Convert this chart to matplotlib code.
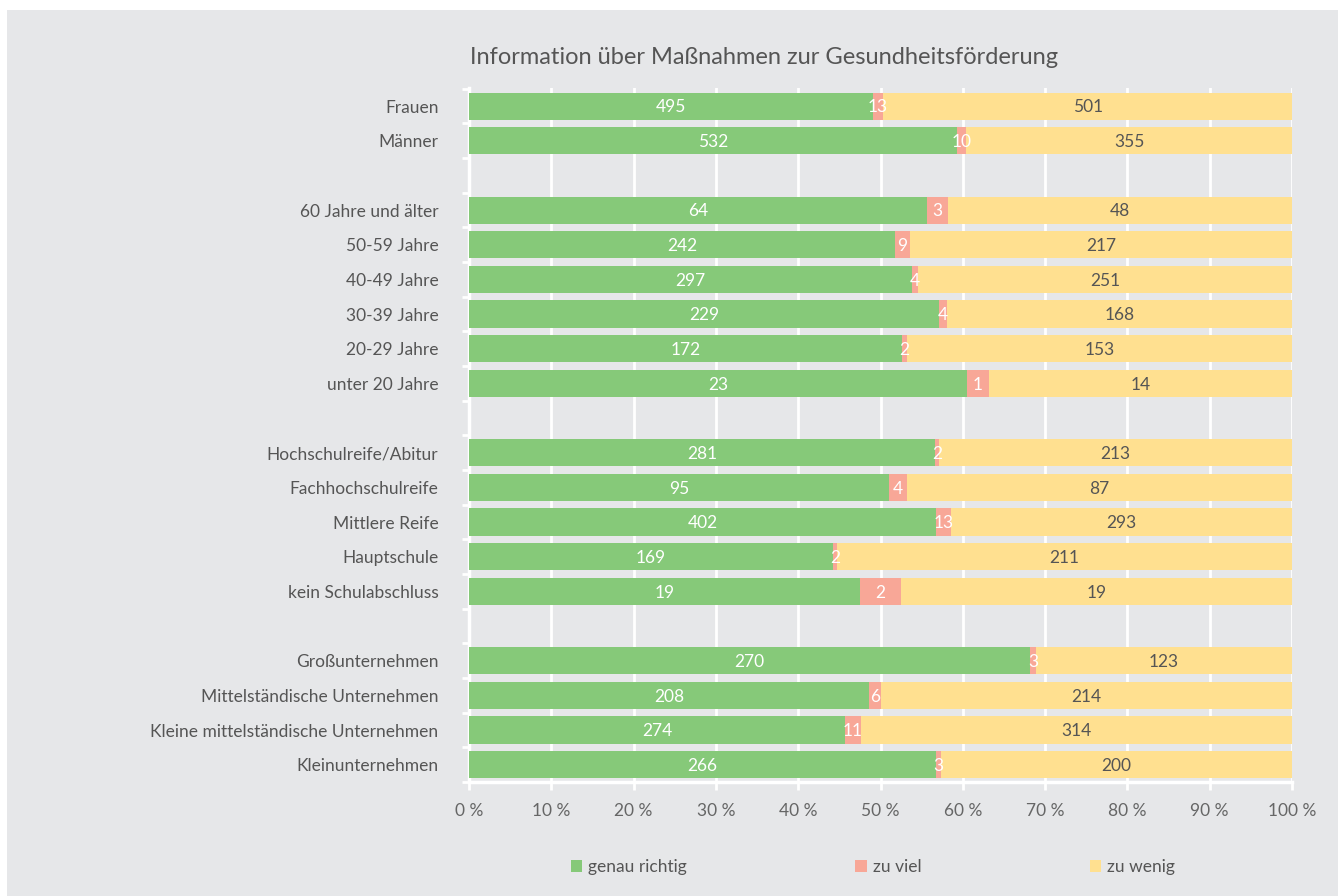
import matplotlib
matplotlib.use("Agg")
import matplotlib.pyplot as plt
from matplotlib.patches import Rectangle, Patch
import numpy as np

plt.rcParams['font.family'] = ['Lato', 'DejaVu Sans']

title = "Information über Maßnahmen zur Gesundheitsförderung"
categories = [
    "Frauen", "Männer", None,
    "60 Jahre und älter", "50-59 Jahre", "40-49 Jahre", "30-39 Jahre", "20-29 Jahre", "unter 20 Jahre", None,
    "Hochschulreife/Abitur", "Fachhochschulreife", "Mittlere Reife", "Hauptschule", "kein Schulabschluss", None,
    "Großunternehmen", "Mittelständische Unternehmen", "Kleine mittelständische Unternehmen", "Kleinunternehmen",
]
genau_richtig = [495, 532, None, 64, 242, 297, 229, 172, 23, None, 281, 95, 402, 169, 19, None, 270, 208, 274, 266]
zu_viel =       [13, 10, None, 3, 9, 4, 4, 2, 1, None, 2, 4, 13, 2, 2, None, 3, 6, 11, 3]
zu_wenig =      [501, 355, None, 48, 217, 251, 168, 153, 14, None, 213, 87, 293, 211, 19, None, 123, 214, 314, 200]
series_names = ["genau richtig", "zu viel", "zu wenig"]
x_ticks = [0, 10, 20, 30, 40, 50, 60, 70, 80, 90, 100]

colors = ["#86C979", "#F8A797", "#FFE090"]
text_colors = ["white", "white", "#555555"]
bg = "#E6E7E9"

fig = plt.figure(figsize=(13.44, 8.96), dpi=100, facecolor="white")
fig.patches.append(Rectangle((7/1344, 0), 1331/1344, 1 - 10/896, transform=fig.transFigure,
                             facecolor=bg, edgecolor="none", zorder=-10))
ax = fig.add_axes([469/1344, 1 - 782/896, 823/1344, (782 - 88)/896])
ax.set_facecolor(bg)

n = len(categories)
ypos = np.arange(n)
for i in range(n):
    if categories[i] is None:
        continue
    vals = [genau_richtig[i], zu_viel[i], zu_wenig[i]]
    tot = sum(vals)
    left = 0.0
    for k, v in enumerate(vals):
        w = v / tot * 100
        ax.barh(ypos[i], w, left=left, height=0.78, color=colors[k], zorder=3)
        ax.text(left + w / 2, ypos[i] + 0.04, str(v), ha="center", va="center",
                color=text_colors[k], fontsize=12.5, zorder=4)
        left += w

ax.set_xlim(0, 100)
ax.set_ylim(n - 0.5, -0.52)
ax.set_xticks(x_ticks)
ax.set_xticklabels([f"{t} %" for t in x_ticks], color="#666666", fontsize=12.5)
ax.set_yticks([i for i in range(n) if categories[i] is not None])
ax.set_yticklabels([c for c in categories if c is not None], color="#555555", fontsize=12.5)
ax.set_yticks(np.arange(-0.5, n, 1.0), minor=True)
ax.tick_params(axis="y", which="major", length=0, pad=22)
ax.tick_params(axis="y", which="minor", length=5, width=2, color="white")
ax.tick_params(axis="x", which="major", length=6, width=2, color="white", pad=9)
ax.grid(axis="x", color="white", linewidth=2, zorder=0)
ax.set_axisbelow(True)
for s in ["top", "right"]:
    ax.spines[s].set_visible(False)
for s in ["left", "bottom"]:
    ax.spines[s].set_color("white")
    ax.spines[s].set_linewidth(2.5)

fig.text(470/1344, 1 - 58/896, title, ha="left", va="center", fontsize=17, color="#555555")

handles = [Patch(facecolor=c, edgecolor="none") for c in colors]
leg = fig.legend(handles, series_names, loc="center", bbox_to_anchor=(873/1344, 1 - 867/896),
                 ncol=3, frameon=False, fontsize=12.5, handlelength=0.65, handleheight=0.65,
                 handletextpad=0.35, columnspacing=9.7)
for t in leg.get_texts():
    t.set_color("#555555")

fig.savefig("out.png", dpi=100, facecolor="white")
